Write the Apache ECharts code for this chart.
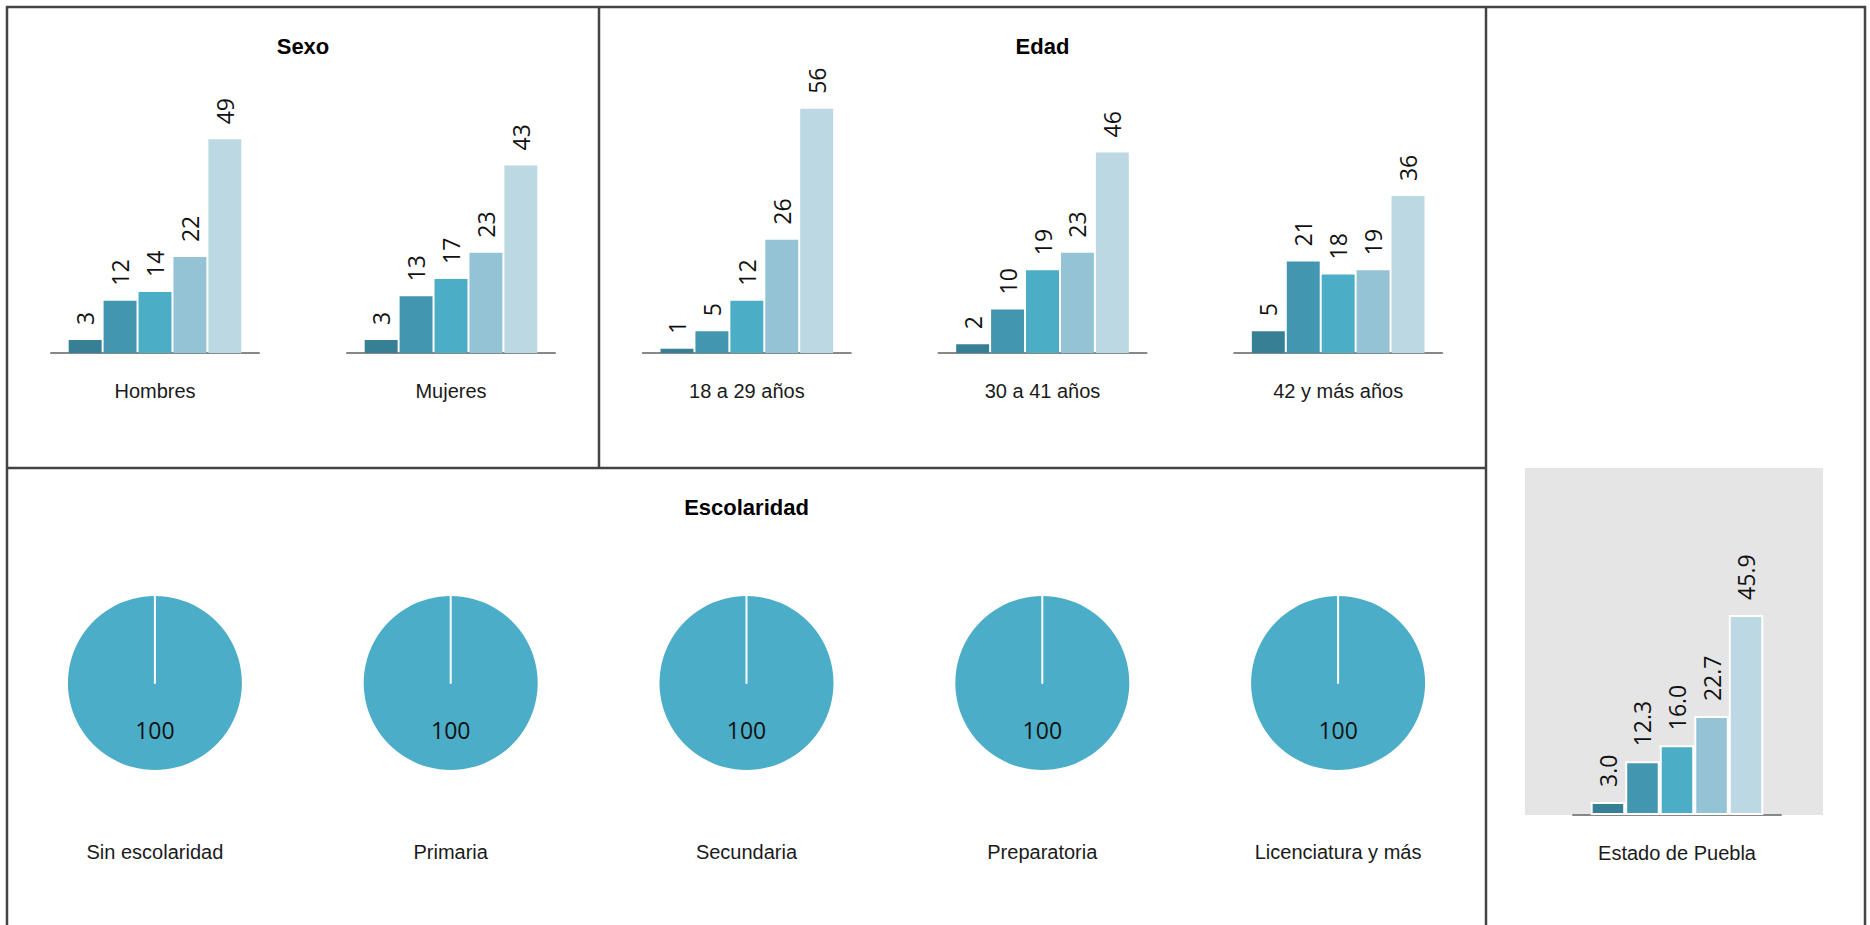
<!DOCTYPE html>
<html>
<head>
<meta charset="utf-8">
<script src="https://cdn.jsdelivr.net/npm/echarts@6/dist/echarts.min.js"></script>
<style>
  html, body { margin: 0; padding: 0; background: #fff; }
  #chart { width: 1870px; height: 925px; }
</style>
</head>
<body>
<div id="chart"></div>
<script>
// ---------------- DATA ----------------
const panelTitles = ['Sexo', 'Edad', 'Escolaridad'];
const sexoCats = ['Hombres', 'Mujeres'];
const sexoValues = [
  [3, 12, 14, 22, 49],
  [3, 13, 17, 23, 43]
];
const edadCats = ['18 a 29 años', '30 a 41 años', '42 y más años'];
const edadValues = [
  [1, 5, 12, 26, 56],
  [2, 10, 19, 23, 46],
  [5, 21, 18, 19, 36]
];
const escolaridadCats = ['Sin escolaridad', 'Primaria', 'Secundaria', 'Preparatoria', 'Licenciatura y más'];
const escolaridadValues = [100, 100, 100, 100, 100];
const pueblaCat = 'Estado de Puebla';
const pueblaValues = [3.0, 12.3, 16.0, 22.7, 45.9];
const barColors = ['#377f95', '#4396af', '#4badc6', '#93c3d5', '#bcd8e3'];
const pieColor = '#4badc7';

// ---------------- LAYOUT ----------------
const BORDER = '#444444';
const LW = 2.5;
const X0 = 7, Y0 = 7, XMID = 599, XR = 1486, XEND = 1865, YMID = 468;
const PX_PER_UNIT = 4.36;
const Y_MAX = 60;
const GRID_H = Y_MAX * PX_PER_UNIT;
const GRID_W = 208;
const labelFont = 'Liberation Sans, Arial, sans-serif';
const numFont = 'Open Sans, sans-serif';

const groups = [];
sexoCats.forEach((c, i) => groups.push({ name: c, values: sexoValues[i], cx: X0 + (XMID - X0) * (i + 0.5) / 2, base: 353, dec: 0, bw: 0, gap: '6%' }));
edadCats.forEach((c, i) => groups.push({ name: c, values: edadValues[i], cx: XMID + (XR - XMID) * (i + 0.5) / 3, base: 353, dec: 0, bw: 0, gap: '6%' }));
groups.push({ name: pueblaCat, values: pueblaValues, cx: 1677, base: 815, dec: 1, bw: 2, gap: '0%' });

const grid = [], xAxis = [], yAxis = [], series = [];
groups.forEach((g, k) => {
  grid.push({ left: g.cx - GRID_W / 2, width: GRID_W, top: g.base - GRID_H, height: GRID_H, outerBoundsMode: 'none', containLabel: false });
  xAxis.push({
    type: 'category', gridIndex: k, data: [g.name],
    axisLine: { show: true, lineStyle: { color: '#888888', width: 2 } },
    axisTick: { show: false },
    axisLabel: { margin: 28, fontSize: 20, color: '#1a1a1a', fontFamily: labelFont }
  });
  yAxis.push({ type: 'value', gridIndex: k, min: 0, max: Y_MAX, show: false, splitLine: { show: false } });
  g.values.forEach((v, i) => {
    series.push({
      type: 'bar', xAxisIndex: k, yAxisIndex: k, name: 'g' + k + '_' + i,
      data: [v], barGap: g.gap, barCategoryGap: '17%',
      itemStyle: { color: barColors[i], borderColor: '#ffffff', borderWidth: g.bw },
      label: {
        show: true, position: 'top', distance: 15, rotate: 90, align: 'left', verticalAlign: 'middle',
        fontSize: 23, fontFamily: numFont, color: '#111111',
        formatter: p => Number(p.value).toFixed(g.dec)
      },
      emphasis: { disabled: true }, animation: false
    });
  });
});

// Escolaridad pies
const pieY = 683, pieR = 87;
escolaridadValues.forEach((v, i) => {
  const cx = X0 + (XR - X0) * (i + 0.5) / 5;
  series.push({
    type: 'pie', center: [cx, pieY], radius: [0, pieR], startAngle: 90, clockwise: true,
    silent: true, animation: false,
    label: { show: true, position: 'inside', fontSize: 23, fontFamily: numFont, color: '#111111', formatter: p => String(p.value) },
    labelLine: { show: false },
    data: [
      { name: escolaridadCats[i], value: v, itemStyle: { color: pieColor, borderWidth: 0 } },
      { name: '', value: 0, itemStyle: { color: pieColor, borderColor: '#ffffff', borderWidth: 2 }, label: { show: false } }
    ]
  });
});

// Frame + text graphics
const graphic = [
  { type: 'rect', z: -10, shape: { x: 1525, y: YMID, width: 298, height: 815 - YMID }, style: { fill: '#e5e5e5' } },
  { type: 'rect', z: 100, shape: { x: X0, y: Y0, width: XEND - X0, height: 960 }, style: { fill: 'none', stroke: BORDER, lineWidth: LW } },
  { type: 'line', z: 100, shape: { x1: XMID, y1: Y0, x2: XMID, y2: YMID }, style: { stroke: BORDER, lineWidth: LW } },
  { type: 'line', z: 100, shape: { x1: XR, y1: Y0, x2: XR, y2: 960 }, style: { stroke: BORDER, lineWidth: LW } },
  { type: 'line', z: 100, shape: { x1: X0, y1: YMID, x2: XR, y2: YMID }, style: { stroke: BORDER, lineWidth: LW } },
  { type: 'text', z: 100, x: (X0 + XMID) / 2, y: 46, style: { text: panelTitles[0], align: 'center', verticalAlign: 'middle', font: 'bold 22px ' + labelFont, fill: '#000' } },
  { type: 'text', z: 100, x: (XMID + XR) / 2, y: 46, style: { text: panelTitles[1], align: 'center', verticalAlign: 'middle', font: 'bold 22px ' + labelFont, fill: '#000' } },
  { type: 'text', z: 100, x: (X0 + XR) / 2, y: 507, style: { text: panelTitles[2], align: 'center', verticalAlign: 'middle', font: 'bold 22px ' + labelFont, fill: '#000' } }
];
escolaridadCats.forEach((c, i) => {
  graphic.push({ type: 'text', z: 100, x: X0 + (XR - X0) * (i + 0.5) / 5, y: 852, style: { text: c, align: 'center', verticalAlign: 'middle', font: '20px ' + labelFont, fill: '#1a1a1a' } });
});

const chart = echarts.init(document.getElementById('chart'), null, { renderer: 'svg', width: 1870, height: 925 });
chart.setOption({
  backgroundColor: '#ffffff',
  animation: false,
  tooltip: { show: false },
  grid, xAxis, yAxis, series, graphic
});
</script>
</body>
</html>
